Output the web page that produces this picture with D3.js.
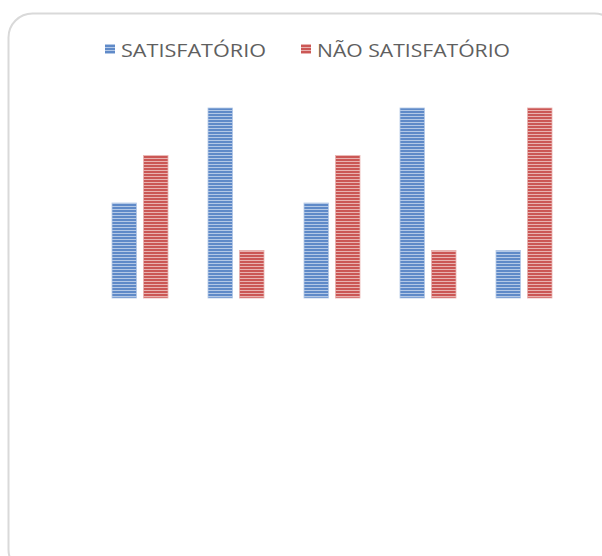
<!DOCTYPE html>
<html><head><meta charset="utf-8">
<script src="https://cdn.jsdelivr.net/npm/d3@7"></script>
<style>html,body{margin:0;padding:0;background:#fff;}</style>
</head><body>
<script>
const categories = ["1", "2", "3", "4", "5"];
const seriesNames = ["SATISFATÓRIO", "NÃO SATISFATÓRIO"];
const satisfatorio = [2, 4, 2, 4, 1];
const naoSatisfatorio = [3, 1, 3, 1, 4];
const seriesValues = [satisfatorio, naoSatisfatorio];
const baseColors = ["#5f8ac8", "#cb5755"];
const lightColors = ["#b3c8e6", "#e8b2b0"];

const W = 602, H = 556;
const svg = d3.select("body").append("svg").attr("width", W).attr("height", H);
const defs = svg.append("defs");
seriesNames.forEach((s, i) => {
  const p = defs.append("pattern").attr("id", "pat" + i)
    .attr("patternUnits", "userSpaceOnUse").attr("width", 4).attr("height", 3);
  p.append("rect").attr("width", 4).attr("height", 3).attr("fill", baseColors[i]);
  p.append("rect").attr("y", 2).attr("width", 4).attr("height", 1).attr("fill", lightColors[i]);
});

// chart border
svg.append("rect").attr("x", 8.5).attr("y", 13.5).attr("width", 610).attr("height", 560)
  .attr("rx", 24).attr("ry", 24).attr("fill", "#fff").attr("stroke", "#d9d9d9").attr("stroke-width", 2);

const x0 = d3.scaleBand().domain(categories).range([92, 572]).padding(0);
const x1 = d3.scaleBand().domain(d3.range(seriesNames.length))
  .range([20, x0.bandwidth() - 20]).paddingInner(0.222);
const y = d3.scaleLinear().domain([0, 4]).range([298, 108]);

const g = svg.append("g");
categories.forEach((c, ci) => {
  seriesNames.forEach((s, si) => {
    const v = seriesValues[si][ci];
    g.append("rect")
      .attr("x", x0(c) + x1(si))
      .attr("y", y(v))
      .attr("width", x1.bandwidth())
      .attr("height", y(0) - y(v))
      .attr("fill", "url(#pat" + si + ")")
      .attr("stroke", lightColors[si]).attr("stroke-width", 0.8);
  });
});

// legend
const legendPos = [{sx: 105, tx: 121, tw: 145}, {sx: 301, tx: 317, tw: 193}];
seriesNames.forEach((s, i) => {
  svg.append("rect").attr("x", legendPos[i].sx).attr("y", 44).attr("width", 10).attr("height", 10)
    .attr("fill", "url(#pat" + i + ")");
  svg.append("text").attr("x", legendPos[i].tx).attr("y", 57)
    .attr("font-family", "'Open Sans', sans-serif").attr("font-size", 18)
    .attr("fill", "#5f5f5f")
    .attr("textLength", legendPos[i].tw).attr("lengthAdjust", "spacingAndGlyphs")
    .text(s);
});
</script>
</body></html>
